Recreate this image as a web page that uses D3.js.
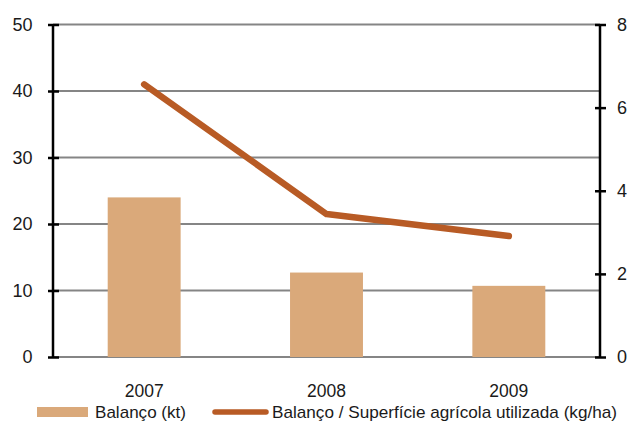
<!DOCTYPE html>
<html>
<head>
<meta charset="utf-8">
<script src="https://cdn.jsdelivr.net/npm/d3@7"></script>
<style>
  html, body { margin: 0; padding: 0; background: #fff; }
  svg { display: block; font-family: "Liberation Sans", Arial, sans-serif; }
</style>
</head>
<body>
<svg id="chart" width="635" height="421"></svg>
<script>
// Nitrogen balance by year
const years = ["2007", "2008", "2009"];
const balanceKt = [24.0, 12.7, 10.7];
const balancePerHa = [6.56, 3.44, 2.91];
const leftTicks = [0, 10, 20, 30, 40, 50];
const rightTicks = [0, 2, 4, 6, 8];
const seriesNames = ["Balanço (kt)", "Balanço / Superfície agrícola utilizada (kg/ha)"];

const barColor = "#DAA97A";
const lineColor = "#B85B25";
const gridColor = "#858585";
const textColor = "#1a1a1a";
const fontFamily = "Liberation Sans, Arial, sans-serif";

const svg = d3.select("#chart");
const plotLeft = 53, plotRight = 600, plotTop = 24.5, plotBottom = 357;

const x = d3.scaleBand().domain(years).range([plotLeft, plotRight]).paddingInner(0.6).paddingOuter(0.3);
const yL = d3.scaleLinear().domain([0, 50]).range([plotBottom, plotTop]);
const yR = d3.scaleLinear().domain([0, 8]).range([plotBottom, plotTop]);

// horizontal gridlines
svg.append("g").selectAll("line").data(leftTicks).join("line")
  .attr("x1", plotLeft).attr("x2", plotRight)
  .attr("y1", d => yL(d)).attr("y2", d => yL(d))
  .attr("stroke", gridColor).attr("stroke-width", 2);

// bars
svg.append("g").selectAll("rect").data(years).join("rect")
  .attr("x", d => x(d))
  .attr("width", x.bandwidth())
  .attr("y", (d, i) => yL(balanceKt[i]))
  .attr("height", (d, i) => yL(0) - yL(balanceKt[i]))
  .attr("fill", barColor);

// line on secondary axis
const line = d3.line()
  .x((d, i) => x(years[i]) + x.bandwidth() / 2)
  .y(d => yR(d));
svg.append("path").datum(balancePerHa)
  .attr("d", line)
  .attr("fill", "none")
  .attr("stroke", lineColor)
  .attr("stroke-width", 6.5)
  .attr("stroke-linecap", "round")
  .attr("stroke-linejoin", "round");

// left axis
const axL = svg.append("g").attr("transform", `translate(${plotLeft},0)`)
  .call(d3.axisLeft(yL).tickValues(leftTicks).tickSize(5).tickPadding(15.5));
axL.select(".domain").attr("stroke", "#000").attr("stroke-width", 2.5)
  .attr("d", `M0,${plotBottom}V${plotTop}`);
axL.selectAll(".tick line").attr("stroke", "#000").attr("stroke-width", 2.5)
  .attr("x1", 6).attr("x2", -5);
axL.selectAll(".tick text").attr("font-size", 18).attr("fill", textColor)
  .attr("font-family", fontFamily);

// right axis
const axR = svg.append("g").attr("transform", `translate(${plotRight},0)`)
  .call(d3.axisRight(yR).tickValues(rightTicks).tickSize(6).tickPadding(11));
axR.select(".domain").attr("stroke", "#000").attr("stroke-width", 2.5)
  .attr("d", `M0,${plotBottom}V${plotTop}`);
axR.selectAll(".tick line").attr("stroke", "#000").attr("stroke-width", 2.5)
  .attr("x1", -5).attr("x2", 6);
axR.selectAll(".tick text").attr("font-size", 18).attr("fill", textColor)
  .attr("font-family", fontFamily);

// category labels
svg.append("g").selectAll("text").data(years).join("text")
  .attr("x", d => x(d) + x.bandwidth() / 2)
  .attr("y", 397)
  .attr("text-anchor", "middle")
  .attr("font-size", 17.5)
  .attr("fill", textColor)
  .text(d => d);

// legend
const lg = svg.append("g");
lg.append("rect").attr("x", 37).attr("y", 407).attr("width", 51).attr("height", 10).attr("fill", barColor);
lg.append("text").attr("x", 95).attr("y", 418).attr("font-size", 17).attr("fill", textColor)
  .attr("textLength", 91).attr("lengthAdjust", "spacingAndGlyphs").text(seriesNames[0]);
lg.append("line").attr("x1", 215).attr("x2", 266).attr("y1", 412).attr("y2", 412)
  .attr("stroke", lineColor).attr("stroke-width", 5.5).attr("stroke-linecap", "round");
lg.append("text").attr("x", 272).attr("y", 418).attr("font-size", 17).attr("fill", textColor)
  .attr("textLength", 345).attr("lengthAdjust", "spacingAndGlyphs").text(seriesNames[1]);
</script>
</body>
</html>
